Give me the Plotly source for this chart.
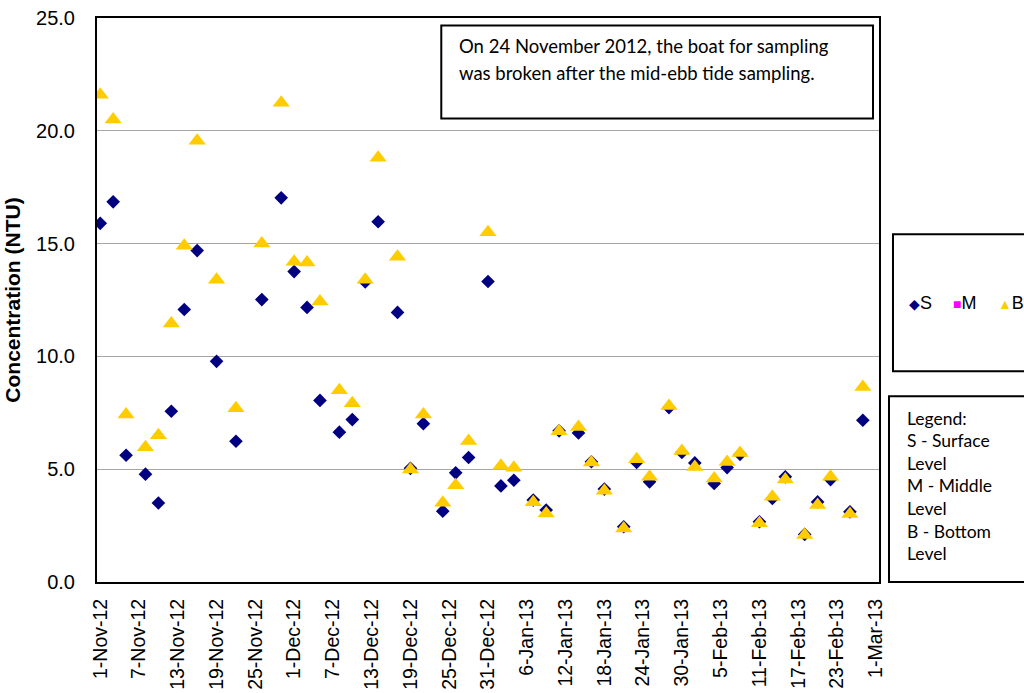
import plotly.graph_objects as go

# ---- data ----
sample_dates = [
    "2012-11-01", "2012-11-03", "2012-11-05", "2012-11-08", "2012-11-10", "2012-11-12",
    "2012-11-14", "2012-11-16", "2012-11-19", "2012-11-22", "2012-11-26", "2012-11-29",
    "2012-12-01", "2012-12-03", "2012-12-05", "2012-12-08", "2012-12-10", "2012-12-12",
    "2012-12-14", "2012-12-17", "2012-12-19", "2012-12-21", "2012-12-24", "2012-12-26",
    "2012-12-28", "2012-12-31", "2013-01-02", "2013-01-04", "2013-01-07", "2013-01-09",
    "2013-01-11", "2013-01-14", "2013-01-16", "2013-01-18", "2013-01-21", "2013-01-23",
    "2013-01-25", "2013-01-28", "2013-01-30", "2013-02-01", "2013-02-04", "2013-02-06",
    "2013-02-08", "2013-02-11", "2013-02-13", "2013-02-15", "2013-02-18", "2013-02-20",
    "2013-02-22", "2013-02-25", "2013-02-27",
]
surface_ntu = [
    15.9, 16.85, 5.62, 4.78, 3.5, 7.57,
    12.08, 14.69, 9.78, 6.24, 12.52, 17.03,
    13.76, 12.17, 8.05, 6.64, 7.2, 13.3,
    15.97, 11.95, 5.04, 7.02, 3.14, 4.84,
    5.52, 13.32, 4.26, 4.51, 3.63, 3.19,
    6.7, 6.61, 5.33, 4.12, 2.45, 5.3,
    4.44, 7.73, 5.74, 5.28, 4.37, 5.07,
    5.66, 2.67, 3.7, 4.66, 2.11, 3.55,
    4.54, 3.11, 7.17,
]
middle_ntu = []  # no middle-level data
middle_dates = []
bottom_ntu = [
    21.6, 20.5, 7.43, 5.97, 6.5, 11.46,
    14.9, 19.56, 13.4, 7.7, 15.0, 21.24,
    14.2, 14.16, 12.43, 8.5, 7.92, 13.4,
    18.8, 14.42, 4.99, 7.43, 3.51, 4.29,
    6.25, 15.5, 5.15, 5.06, 3.53, 3.04,
    6.68, 6.87, 5.3, 4.04, 2.37, 5.44,
    4.66, 7.8, 5.81, 5.1, 4.59, 5.32,
    5.72, 2.6, 3.78, 4.54, 2.08, 3.41,
    4.66, 3.01, 8.64,
]
tick_dates = [
    "2012-11-01", "2012-11-07", "2012-11-13", "2012-11-19", "2012-11-25", "2012-12-01",
    "2012-12-07", "2012-12-13", "2012-12-19", "2012-12-25", "2012-12-31", "2013-01-06",
    "2013-01-12", "2013-01-18", "2013-01-24", "2013-01-30", "2013-02-05", "2013-02-11",
    "2013-02-17", "2013-02-23", "2013-03-01",
]
tick_labels = [
    "1-Nov-12", "7-Nov-12", "13-Nov-12", "19-Nov-12", "25-Nov-12", "1-Dec-12",
    "7-Dec-12", "13-Dec-12", "19-Dec-12", "25-Dec-12", "31-Dec-12", "6-Jan-13",
    "12-Jan-13", "18-Jan-13", "24-Jan-13", "30-Jan-13", "5-Feb-13", "11-Feb-13",
    "17-Feb-13", "23-Feb-13", "1-Mar-13",
]
y_ticks = [0, 5, 10, 15, 20, 25]
y_tick_labels = ["0.0", "5.0", "10.0", "15.0", "20.0", "25.0"]
note_lines = ["On 24 November 2012, the boat for sampling",
              "was broken after the mid-ebb tide sampling."]
key_lines = ["Legend:", "S - Surface", "Level", "M - Middle", "Level", "B - Bottom", "Level"]

NAVY = "#000080"
MAGENTA = "#FF00FF"
GOLD = "#FFCC00"
TEXT_FONT = "Lato, Calibri, sans-serif"
AX_FONT = "Arial, Liberation Sans, sans-serif"

fig = go.Figure()
fig.add_trace(go.Scatter(x=sample_dates, y=surface_ntu, mode="markers", name="S",
                         marker=dict(symbol="diamond", size=10.5, color=NAVY)))
fig.add_trace(go.Scatter(x=middle_dates, y=middle_ntu, mode="markers", name="M",
                         marker=dict(symbol="square", size=10, color=MAGENTA)))
fig.add_trace(go.Scatter(x=sample_dates, y=bottom_ntu, mode="markers", name="B",
                         marker=dict(symbol="triangle-up", size=15, color=GOLD)))

# plot area geometry in pixels (for placing boxes in paper coordinates)
L, R, T, B = 96.5, 879.0, 17.5, 582.0
def px(x):
    return (x - L) / (R - L)
def py(y):
    return (B - y) / (B - T)

shapes = [
    dict(type="rect", xref="paper", yref="paper", x0=px(441), x1=px(873), y0=py(118), y1=py(25),
         line=dict(color="black", width=2), fillcolor="white", layer="above"),
    dict(type="rect", xref="paper", yref="paper", x0=px(893), x1=px(1060), y0=py(371), y1=py(234),
         line=dict(color="black", width=2), fillcolor="white"),
    dict(type="rect", xref="paper", yref="paper", x0=px(889), x1=px(1060), y0=py(582), y1=py(396),
         line=dict(color="black", width=2), fillcolor="white"),
]

annotations = []
for i, line in enumerate(note_lines):
    annotations.append(dict(xref="paper", yref="paper", x=px(457), y=py(46 + i * 27),
                            xanchor="left", yanchor="middle", showarrow=False, text=line,
                            font=dict(family=TEXT_FONT, size=18.5, color="black")))
for i, line in enumerate(key_lines):
    annotations.append(dict(xref="paper", yref="paper", x=px(905), y=py(418 + i * 22.6),
                            xanchor="left", yanchor="middle", showarrow=False, text=line,
                            font=dict(family=TEXT_FONT, size=17.5, color="black")))
# series key
key_items = [("◆", NAVY, "S", 907), ("■", MAGENTA, "M", 951), ("▲", GOLD, "B", 996)]
for sym, col, name, xpos in key_items:
    annotations.append(dict(xref="paper", yref="paper", x=px(xpos), y=py(303),
                            xanchor="left", yanchor="middle", showarrow=False,
                            text=f'<span style="color:{col};font-size:14px">{sym}</span>{name}',
                            font=dict(family=AX_FONT, size=18, color="black")))

fig.update_layout(
    width=1024, height=693, autosize=False,
    margin=dict(l=96.5, r=1024 - 879, t=17.5, b=693 - 582, autoexpand=False),
    paper_bgcolor="white", plot_bgcolor="white",
    showlegend=False,
    shapes=shapes, annotations=annotations,
    xaxis=dict(type="date", range=["2012-10-31 12:00", "2013-03-01 12:00"],
               tickmode="array", tickvals=tick_dates, ticktext=tick_labels,
               tickangle=-90, tickfont=dict(family=AX_FONT, size=19.5, color="black"),
               showgrid=False, zeroline=False, showline=True, linecolor="black",
               linewidth=2, mirror=True, ticks="", ticklabelstandoff=7, automargin=False),
    yaxis=dict(range=[0, 25], tickmode="array", tickvals=y_ticks, ticktext=y_tick_labels,
               tickfont=dict(family=AX_FONT, size=20, color="black"),
               showgrid=True, gridcolor="#A6A6A6", gridwidth=1, zeroline=False,
               showline=True, linecolor="black", linewidth=2, mirror=True, ticks="",
               ticklabelstandoff=16, automargin=False,
               title=dict(text="<b>Concentration (NTU)</b>", standoff=10,
                          font=dict(family=AX_FONT, size=21, color="black"))),
)

fig.write_html("out.html",
               config={"displayModeBar": False, "responsive": False},
               post_script="document.body.style.margin='0';document.body.style.overflow='hidden';")
